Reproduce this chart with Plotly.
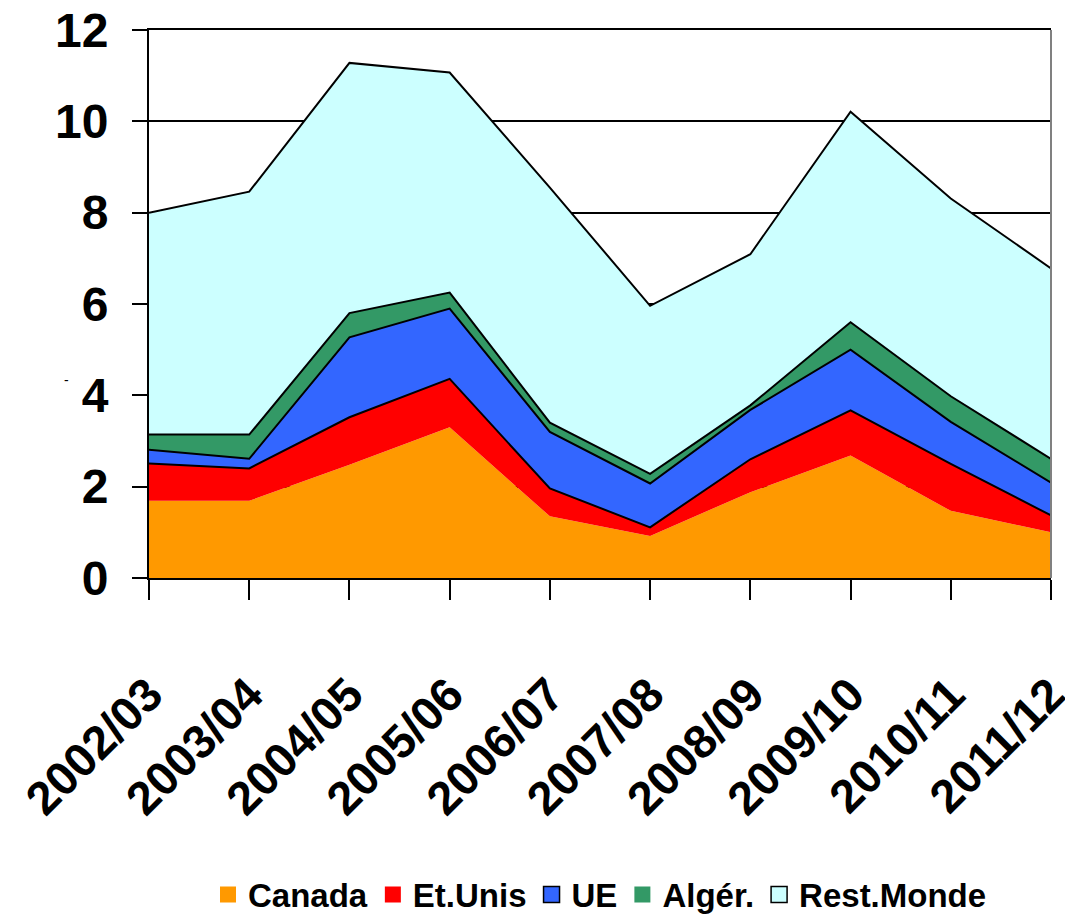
import plotly.graph_objects as go

campagnes = ["2002/03", "2003/04", "2004/05", "2005/06", "2006/07",
             "2007/08", "2008/09", "2009/10", "2010/11", "2011/12"]
canada = [1.69, 1.69, 2.48, 3.30, 1.35, 0.92, 1.88, 2.68, 1.47, 1.00]
et_unis = [0.82, 0.71, 1.04, 1.06, 0.61, 0.19, 0.72, 0.99, 1.03, 0.37]
ue = [0.30, 0.21, 1.75, 1.54, 1.24, 0.96, 1.08, 1.33, 0.92, 0.72]
alger = [0.33, 0.53, 0.53, 0.35, 0.20, 0.21, 0.10, 0.60, 0.56, 0.52]
rest_monde = [4.86, 5.32, 5.48, 4.82, 5.15, 3.68, 3.31, 4.61, 4.33, 4.17]
y_ticks = [0, 2, 4, 6, 8, 10, 12]

series = [
    ("Canada", canada, "#FF9900", 0, False),
    ("Et.Unis", et_unis, "#FF0000", 2, False),
    ("UE", ue, "#3366FF", 2, True),
    ("Algér.", alger, "#339966", 2, False),
    ("Rest.Monde", rest_monde, "#CCFFFF", 2, True),
]

FONT = "Liberation Sans, Arial, sans-serif"

fig = go.Figure()
for name, vals, color, lw, _ in series:
    fig.add_trace(go.Scatter(
        x=campagnes, y=vals, name=name, stackgroup="one",
        mode="lines", fillcolor=color,
        line=dict(color="black" if lw else color, width=lw if lw else 0),
        showlegend=False, hoverinfo="x+y+name",
    ))

for name, vals, color, lw, bordered in series:
    fig.add_trace(go.Scatter(
        x=[None], y=[None], name=name, mode="markers",
        marker=dict(symbol="square", size=16, color=color,
                    line=dict(color="black", width=1.5 if bordered else 0)),
        showlegend=True,
    ))

fig.update_layout(
    width=1065, height=915,
    margin=dict(l=141, r=22, t=22, b=345),
    paper_bgcolor="white", plot_bgcolor="white",
    font=dict(family=FONT, color="black"),
    showlegend=True,
    legend=dict(orientation="h", x=0.5, xanchor="center",
                yref="container", y=0.031, yanchor="middle",
                traceorder="normal",
                font=dict(size=33, family=FONT, weight="bold"),
                itemsizing="trace", itemwidth=30, tracegroupgap=0),
    xaxis=dict(
        type="category", range=[0, 9], showgrid=False, automargin=False,
        showline=True, linecolor="black", linewidth=2, mirror=True,
        ticks="outside", ticklen=20, tickwidth=1.5, tickcolor="black",
        tickangle=-45, ticklabelstandoff=48, ticklabeloverflow="allow",
        tickfont=dict(size=47, family=FONT, weight="bold"),
    ),
    yaxis=dict(
        range=[0, 12], tickvals=y_ticks, automargin=False,
        showgrid=True, gridcolor="black", gridwidth=1.5,
        showline=True, linecolor="black", linewidth=2,
        ticks="outside", ticklen=15, tickwidth=1.5, tickcolor="black",
        ticklabelstandoff=14, ticklabeloverflow="allow",
        tickfont=dict(size=48, family=FONT, weight="bold"),
        zeroline=False,
    ),
    shapes=[dict(type="line", xref="paper", yref="paper", x0=1, x1=1, y0=0, y1=1,
                 line=dict(color="#808080", width=2))],
    annotations=[dict(text="-", xref="paper", yref="y", x=-0.096, y=4.33,
                      showarrow=False, font=dict(size=14, color="black"))],
)

fig.write_html("out.html")
